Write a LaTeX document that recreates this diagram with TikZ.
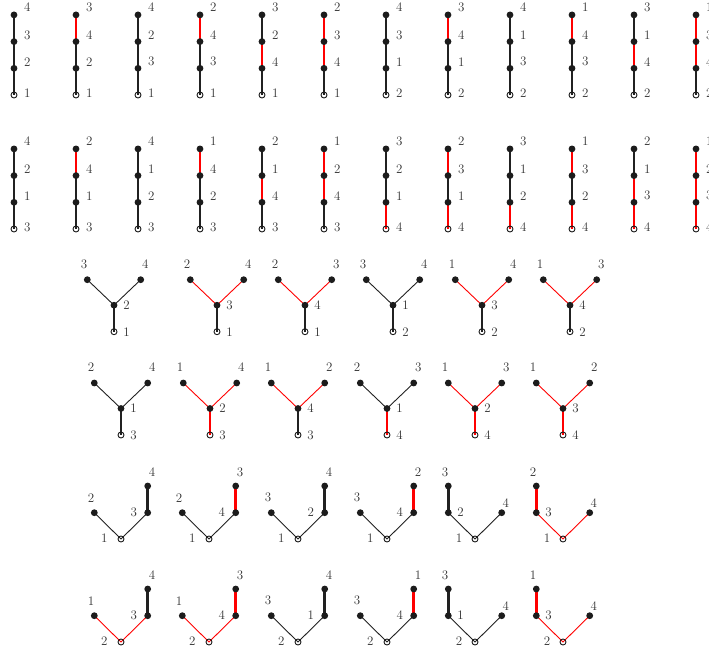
\documentclass[tikz,border=0pt]{standalone}
\usepackage{fontspec}
\pgfdeclarelayer{edges}
\pgfsetlayers{edges,main}
\definecolor{dk}{rgb}{0.11,0.11,0.11}
\definecolor{ek}{rgb}{0.13,0.13,0.13}
\definecolor{er}{rgb}{1,0,0}
\tikzset{
  dot/.style={circle, fill=dk, inner sep=0pt, minimum size=6.8pt},
  rootdot/.style={circle, draw=dk, line width=0.9pt, inner sep=0pt, minimum size=6pt},
  lab/.style={inner sep=0pt, text=black!80, font=\fontsize{13}{13}\selectfont},
  thickedge/.style={line width=2.7pt},
  thinedge/.style={line width=0.9pt},
}
\begin{document}
\begin{tikzpicture}[x=1pt,y=-1pt]
\useasboundingbox (0,0) rectangle (709,650);
% ---------- chains (rows 1 and 2) ----------
\foreach \px/\ry/\la/\lb/\lc/\ld/\ea/\eb/\ec [count=\idx] in {
  14/95/4/3/2/1/ek/ek/ek, 76/95/3/4/2/1/er/ek/ek, 138/95/4/2/3/1/ek/ek/ek,
  200/95/2/4/3/1/er/ek/ek, 262/95/3/2/4/1/ek/er/ek, 324/95/2/3/4/1/er/er/ek,
  386/95/4/3/1/2/ek/ek/ek, 448/95/3/4/1/2/er/ek/ek, 510/95/4/1/3/2/ek/ek/ek,
  572/95/1/4/3/2/er/ek/ek, 634/95/3/1/4/2/ek/er/ek, 696/95/1/3/4/2/er/er/ek,
  14/229/4/2/1/3/ek/ek/ek, 76/229/2/4/1/3/er/ek/ek, 138/229/4/1/2/3/ek/ek/ek,
  200/229/1/4/2/3/er/ek/ek, 262/229/2/1/4/3/ek/er/ek, 324/229/1/2/4/3/er/er/ek,
  386/229/3/2/1/4/ek/ek/er, 448/229/2/3/1/4/er/ek/er, 510/229/3/1/2/4/ek/ek/er,
  572/229/1/3/2/4/er/ek/er, 634/229/2/1/3/4/ek/er/er, 696/229/1/2/3/4/er/er/er}{
  \node[dot] (ch\idx-a) at (\px,\ry-80.1) {};
  \node[dot] (ch\idx-b) at (\px,\ry-53.4) {};
  \node[dot] (ch\idx-c) at (\px,\ry-26.7) {};
  \node[rootdot] (ch\idx-r) at (\px,\ry) {};
  \begin{pgfonlayer}{edges}
    \draw[thickedge, draw=\ea] (ch\idx-a.center) -- (ch\idx-b.center);
    \draw[thickedge, draw=\eb] (ch\idx-b.center) -- (ch\idx-c.center);
    \draw[thickedge, draw=\ec] (ch\idx-c.center) -- (ch\idx-r.center);
  \end{pgfonlayer}
  \node[lab] (ch\idx-la) at ([shift={(13.3,-7.5)}]ch\idx-a.center) {\la};
  \node[lab] (ch\idx-lb) at ([shift={(13.3,-6.5)}]ch\idx-b.center) {\lb};
  \node[lab] (ch\idx-lc) at ([shift={(13.3,-6.5)}]ch\idx-c.center) {\lc};
  \node[lab] (ch\idx-ld) at ([shift={(13.3,-1.7)}]ch\idx-r.center) {\ld};
}
% ---------- Y shapes (rows 3 and 4) ----------
\foreach \px/\ry/\ll/\lr/\lm/\lt/\cl/\cs [count=\idx] in {
  114/331.7/3/4/2/1/ek/ek, 217/331.7/2/4/3/1/er/ek, 305/331.7/2/3/4/1/er/ek,
  393/331.7/3/4/1/2/ek/ek, 482/331.7/1/4/3/2/er/ek, 570/331.7/1/3/4/2/er/ek,
  121/435/2/4/1/3/ek/ek, 210/435/1/4/2/3/er/er, 298/435/1/2/4/3/er/ek,
  387/435/2/3/1/4/ek/er, 475/435/1/3/2/4/er/er, 563/435/1/2/3/4/er/er}{
  \node[dot] (y\idx-l) at (\px-26.7,\ry-52) {};
  \node[dot] (y\idx-r) at (\px+26.7,\ry-52) {};
  \node[dot] (y\idx-m) at (\px,\ry-26.5) {};
  \node[rootdot] (y\idx-o) at (\px,\ry) {};
  \begin{pgfonlayer}{edges}
    \draw[thinedge, draw=\cl] (y\idx-l.center) -- (y\idx-m.center) -- (y\idx-r.center);
    \draw[thickedge, draw=\cs] (y\idx-m.center) -- (y\idx-o.center);
  \end{pgfonlayer}
  \node[lab] (y\idx-ll) at ([shift={(-3.3,-15.5)}]y\idx-l.center) {\ll};
  \node[lab] (y\idx-lr) at ([shift={(4.5,-15.5)}]y\idx-r.center) {\lr};
  \node[lab] (y\idx-lm) at ([shift={(12.5,0)}]y\idx-m.center) {\lm};
  \node[lab] (y\idx-lo) at ([shift={(12.5,0)}]y\idx-o.center) {\lt};
}
% ---------- V shapes, stem on the right (rows 5 and 6) ----------
\foreach \px/\ry/\ll/\lo/\lm/\lt/\cv/\cu [count=\idx] in {
  121/539/2/1/3/4/ek/ek, 209/539/2/1/4/3/ek/er, 298/539/3/1/2/4/ek/ek,
  387/539/3/1/4/2/ek/er,
  121/642/1/2/3/4/er/ek, 209/642/1/2/4/3/er/er, 298/642/3/2/1/4/ek/ek,
  387/642/3/2/4/1/ek/er}{
  \node[dot] (va\idx-l) at (\px-26.7,\ry-26.3) {};
  \node[dot] (va\idx-m) at (\px+26.7,\ry-26.3) {};
  \node[dot] (va\idx-t) at (\px+26.7,\ry-53) {};
  \node[rootdot] (va\idx-o) at (\px,\ry) {};
  \begin{pgfonlayer}{edges}
    \draw[thinedge, draw=\cv] (va\idx-l.center) -- (va\idx-o.center) -- (va\idx-m.center);
    \draw[thickedge, draw=\cu] (va\idx-m.center) -- (va\idx-t.center);
  \end{pgfonlayer}
  \node[lab] (va\idx-ll) at ([shift={(-3.3,-15)}]va\idx-l.center) {\ll};
  \node[lab] (va\idx-lo) at ([shift={(-16.7,-1.3)}]va\idx-o.center) {\lo};
  \node[lab] (va\idx-lm) at ([shift={(-14,-0.5)}]va\idx-m.center) {\lm};
  \node[lab] (va\idx-lt) at ([shift={(4.3,-14)}]va\idx-t.center) {\lt};
}
% ---------- V shapes, stem on the left (rows 5 and 6) ----------
\foreach \px/\ry/\lt/\lm/\lr/\lo/\cv/\cu [count=\idx] in {
  475/539/3/2/4/1/ek/ek, 563/539/2/3/4/1/er/er,
  475/642/3/1/4/2/ek/ek, 563/642/1/3/4/2/er/er}{
  \node[dot] (vb\idx-t) at (\px-26.7,\ry-53) {};
  \node[dot] (vb\idx-m) at (\px-26.7,\ry-26.3) {};
  \node[dot] (vb\idx-r) at (\px+26.7,\ry-26.3) {};
  \node[rootdot] (vb\idx-o) at (\px,\ry) {};
  \begin{pgfonlayer}{edges}
    \draw[thickedge, draw=\cu] (vb\idx-t.center) -- (vb\idx-m.center);
    \draw[thinedge, draw=\cv] (vb\idx-m.center) -- (vb\idx-o.center) -- (vb\idx-r.center);
  \end{pgfonlayer}
  \node[lab] (vb\idx-lt) at ([shift={(-3.3,-14)}]vb\idx-t.center) {\lt};
  \node[lab] (vb\idx-lm) at ([shift={(12.3,-0.5)}]vb\idx-m.center) {\lm};
  \node[lab] (vb\idx-lr) at ([shift={(4,-9.7)}]vb\idx-r.center) {\lr};
  \node[lab] (vb\idx-lo) at ([shift={(-16,-1.3)}]vb\idx-o.center) {\lo};
}
\end{tikzpicture}
\end{document}
